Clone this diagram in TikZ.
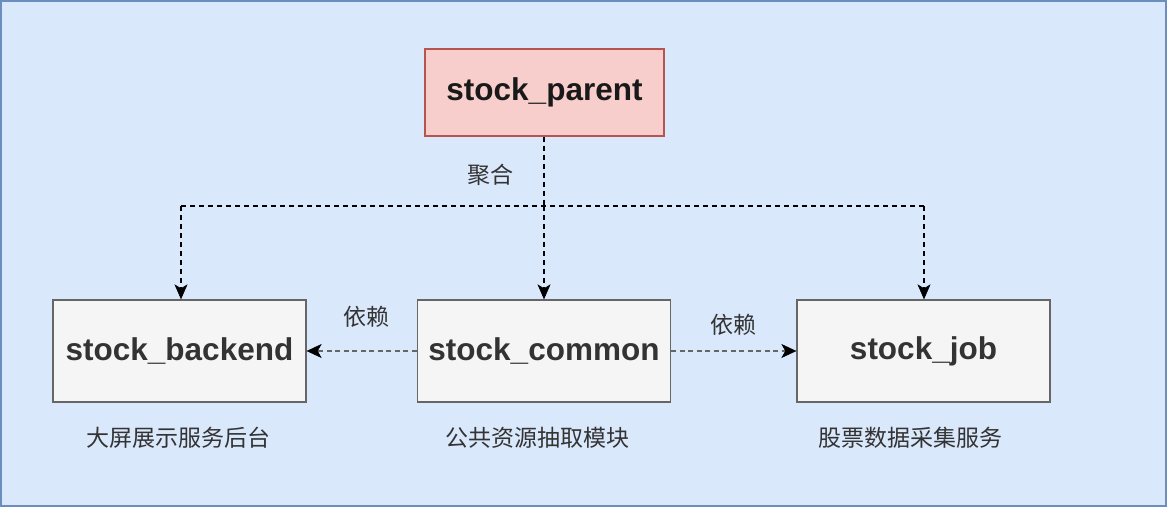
\documentclass[tikz,border=0pt]{standalone}
\usepackage{fontspec}
\setmainfont{Liberation Sans}
\newfontfamily\cjk{Noto Sans CJK SC}
\usetikzlibrary{arrows.meta}
\definecolor{bgfill}{HTML}{DAE8FC}
\definecolor{bgdraw}{HTML}{6C8EBF}
\definecolor{redfill}{HTML}{F8CECC}
\definecolor{reddraw}{HTML}{B85450}
\definecolor{greyfill}{HTML}{F5F5F5}
\definecolor{greydraw}{HTML}{666666}
\definecolor{txt}{HTML}{333333}
\tikzset{
  x=1pt, y=-1pt,
  modbox/.style={draw=greydraw, fill=greyfill, line width=1.3pt, minimum width=253pt, minimum height=102pt, inner sep=0pt, text=txt, font=\fontsize{31.5}{36}\selectfont\bfseries},
  parentbox/.style={modbox, draw=reddraw, fill=redfill, minimum width=239pt, minimum height=87pt, text=black!90},
  lbl/.style={text=txt, font=\cjk\fontsize{23}{26}\selectfont, inner sep=0pt},
  aggr/.style={draw=black, line width=1.2pt, dash pattern=on 5pt off 4pt},
  aggrarrow/.style={aggr, -{Stealth[length=15pt, width=13pt, inset=4pt, line width=0.5pt]}},
  depend/.style={draw=greydraw, line width=2.6pt, dash pattern=on 5pt off 3.5pt, -{Stealth[length=15pt, width=14pt, inset=4pt, color=black, fill=black, line width=0.5pt]}}
}
\begin{document}
\begin{tikzpicture}
\useasboundingbox (0,0) rectangle (1168,508);
\draw[fill=bgfill, draw=bgdraw, line width=2pt] (1,1) rectangle (1166,506);

\node[parentbox] (parent) at (544.5,92.5) {stock\_parent};
\node[modbox] (backend) at (179.5,351) {stock\_backend};
\node[modbox] (common) at (544,351) {stock\_common};
\node[modbox] (job) at (923.5,351) {stock\_job};

\coordinate (hub) at (544,206);
\coordinate (hl) at (181,206);
\coordinate (hr) at (924,206);

\draw[aggr] (parent.south -| hub) -- (hub);
\draw[aggrarrow] (hub) -- (common.north -| hub);
\draw[aggr] (hl) -- (hr);
\draw[aggrarrow] (hl) -- (backend.north -| hl);
\draw[aggrarrow] (hr) -- (job.north -| hr);

\draw[depend] (common.west) -- (backend.east);
\draw[depend] (common.east) -- (job.west);

\node[lbl] (juhe) at (490,175) {聚合};
\node[lbl] (yl1) at (366,317) {依赖};
\node[lbl] (yl2) at (733,325) {依赖};
\node[lbl] (d1) at (178,438) {大屏展示服务后台};
\node[lbl] (d2) at (537,438) {公共资源抽取模块};
\node[lbl] (d3) at (910,438) {股票数据采集服务};
\end{tikzpicture}
\end{document}
